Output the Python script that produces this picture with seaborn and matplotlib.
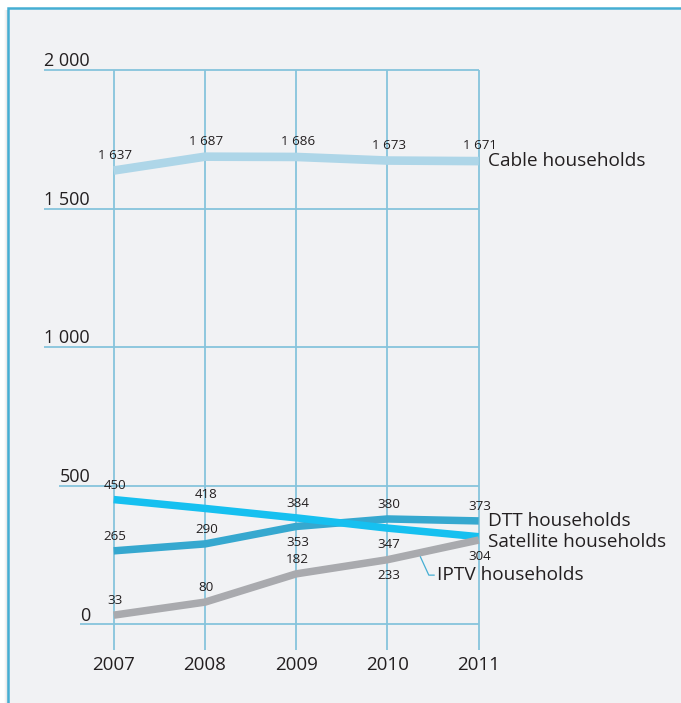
import numpy as np
import pandas as pd
import seaborn as sns
import matplotlib.pyplot as plt
from matplotlib.patches import Rectangle

# datos
years = [2007, 2008, 2009, 2010, 2011]
cable = [1637, 1687, 1686, 1673, 1671]
dtt = [265, 290, 353, 380, 373]
satellite = [450, 418, 384, 347, 316]
iptv = [33, 80, 182, 233, 304]

y_ticks = [0, 500, 1000, 1500, 2000]
y_tick_labels = ['0', '500', '1 000', '1 500', '2 000']

series_names = ['Cable households', 'DTT households', 'Satellite households', 'IPTV households']
series_values = [cable, dtt, satellite, iptv]
# donde va cada etiqueta de valor: 1 arriba, -1 abajo, 0 sin etiqueta
label_side = [
    [1, 1, 1, 1, 1],
    [1, 1, -1, 1, 1],
    [1, 1, 1, -1, 0],
    [1, 1, 1, -1, -1],
]

colors = ['#AED6E8', '#36A8CF', '#16C0F0', '#A9AAAE']
widths = [6.2, 5.4, 5.4, 5.4]
GRID = '#86C4DC'
FRAME = '#45AED3'
TEXT = '#231F20'
BG = '#F1F2F4'

sns.set_style('white')
plt.rcParams['font.family'] = ['Open Sans', 'DejaVu Sans']

df = pd.DataFrame({
    'year': np.tile(years, len(series_names)),
    'value': np.concatenate(series_values),
    'serie': np.repeat(series_names, len(years)),
})

fig = plt.figure(figsize=(6.81, 7.03), dpi=100)
fig.patch.set_facecolor('white')

# marco del recuadro con sombra a la izquierda
top = 1 - 8 / 703
for k, a in enumerate([0.04, 0.07, 0.10, 0.14]):
    fig.patches.append(Rectangle(((4 + k) / 681, -0.1), 1.2, top + 0.1 - 2 / 703, transform=fig.transFigure,
                                 fc='#999999', ec='none', alpha=a, zorder=-3))
fig.patches.append(Rectangle((8 / 681, -0.1), 1.2, top + 0.1, transform=fig.transFigure,
                             fc=BG, ec=FRAME, lw=1.8, zorder=-1))

ax = fig.add_axes([0, 0, 1, 1])
XLIM = (2005.754, 2013.217)
YLIM = (-283.9, 2252.2)
PX_X = (XLIM[1] - XLIM[0]) / 681   # anos por pixel
PX_Y = (YLIM[1] - YLIM[0]) / 703   # unidades por pixel

# cuadricula vertical
ax.vlines(years, -92.7, 2000, color=GRID, lw=1.3, zorder=1)

# lineas
for name, c, w in zip(series_names, colors, widths):
    sns.lineplot(data=df[df['serie'] == name], x='year', y='value', color=c, lw=w,
                 ax=ax, legend=False, zorder=3, solid_capstyle='butt', solid_joinstyle='round')
ax.set_xlim(*XLIM)
ax.set_ylim(*YLIM)
ax.axis('off')
ax.patch.set_alpha(0)

# etiquetas del eje y encima de cada linea
renderer = fig.canvas.get_renderer()
for t, lab in zip(y_ticks, y_tick_labels):
    txt = ax.annotate(lab, xy=(years[0], t), xytext=(-17, 2.6), textcoords='offset points',
                      ha='right', va='baseline', fontsize=13, color=TEXT)
    bb = txt.get_window_extent(renderer)
    x0 = ax.transData.inverted().transform((bb.x0, bb.y0))[0]
    ax.hlines(t, x0, years[-1], color=GRID, lw=1.3, zorder=1)

# etiquetas del eje x
for yr in years:
    ax.annotate(str(yr), xy=(yr, 0), xytext=(0, -29), textcoords='offset points',
                ha='center', va='center', fontsize=13.5, color=TEXT)

# etiquetas de valores
for vals, sides in zip(series_values, label_side):
    for yr, v, s in zip(years, vals, sides):
        if s == 0:
            continue
        off = 10.2 if s > 0 else -11.5
        if vals is cable:
            off = 11
        ax.annotate(f'{v:,}'.replace(',', ' '), xy=(yr, v), xytext=(1, off),
                    textcoords='offset points', ha='center', va='center',
                    fontsize=9.6, color=TEXT, zorder=5)

# nombres de las series
ax.annotate('Cable households', xy=(years[-1], cable[-1]), xytext=(6.5, 0),
            textcoords='offset points', ha='left', va='center', fontsize=13.7, color=TEXT)
ax.annotate('DTT households', xy=(years[-1], dtt[-1]), xytext=(6.5, 0),
            textcoords='offset points', ha='left', va='center', fontsize=13.7, color=TEXT)
ax.annotate('Satellite households', xy=(years[-1], satellite[-1]), xytext=(6.5, -3.5),
            textcoords='offset points', ha='left', va='center', fontsize=13.7, color=TEXT)

# IPTV con linea guia
x_lead = 2010.36
y_lead = np.interp(x_lead, years, iptv) - 4 * PX_Y
gx = [x_lead, x_lead + 8.5 * PX_X, x_lead + 14 * PX_X]
gy = [y_lead, y_lead - 18.5 * PX_Y, y_lead - 18.5 * PX_Y]
ax.plot(gx, gy, color=FRAME, lw=0.9, zorder=4)
ax.annotate('IPTV households', xy=(gx[-1], gy[-1]), xytext=(2, 0),
            textcoords='offset points', ha='left', va='center', fontsize=13.7, color=TEXT)

plt.savefig('out.png', dpi=100)
